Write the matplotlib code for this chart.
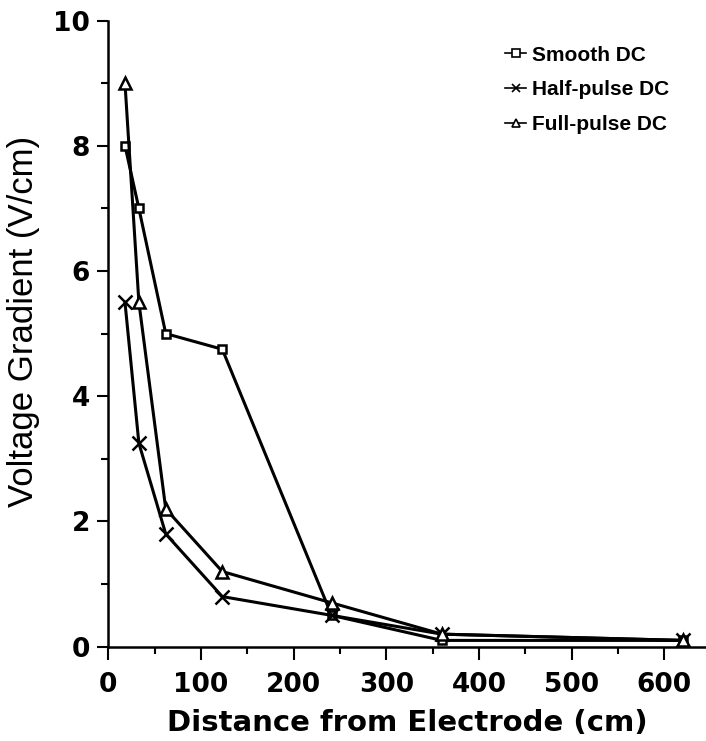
import matplotlib.pyplot as plt
from matplotlib.ticker import MultipleLocator

# Расстояние от электрода (см)
distance = [18, 33, 62, 123, 241, 360, 620]

# Градиент напряжения (В/см)
smooth_dc = [8.0, 7.0, 5.0, 4.75, 0.5, 0.1, 0.1]
half_pulse_dc = [5.5, 3.25, 1.8, 0.8, 0.5, 0.2, 0.1]
full_pulse_dc = [9.0, 5.5, 2.2, 1.2, 0.7, 0.2, 0.1]

fig = plt.figure(figsize=(7.06, 7.41), dpi=100)
ax = fig.add_axes([0.1534, 0.1273, 0.8466, 0.845])

lw = 2.2
ax.plot(distance, smooth_dc, color='black', lw=lw, marker='s', markersize=6,
        markerfacecolor='white', markeredgewidth=1.8, label='Smooth DC')
ax.plot(distance, half_pulse_dc, color='black', lw=lw, marker='x', markersize=10,
        markeredgewidth=1.8, label='Half-pulse DC')
ax.plot(distance, full_pulse_dc, color='black', lw=lw, marker='^', markersize=9,
        markerfacecolor='white', markeredgewidth=1.8, label='Full-pulse DC')

ax.set_xlim(0, 645)
ax.set_ylim(0, 10)
ax.xaxis.set_major_locator(MultipleLocator(100))
ax.xaxis.set_minor_locator(MultipleLocator(50))
ax.yaxis.set_major_locator(MultipleLocator(2))
ax.yaxis.set_minor_locator(MultipleLocator(1))

for s in ['top', 'right']:
    ax.spines[s].set_visible(False)
for s in ['left', 'bottom']:
    ax.spines[s].set_linewidth(1.8)

ax.tick_params(axis='x', which='major', direction='out', length=9, width=1.5, pad=9)
ax.tick_params(axis='x', which='minor', direction='out', length=5, width=1.5)
ax.tick_params(axis='y', which='major', direction='out', length=8, width=1.5, pad=5)
ax.tick_params(axis='y', which='minor', direction='out', length=5, width=1.5)
ax.tick_params(axis='both', labelsize=19)
for lab in ax.get_xticklabels() + ax.get_yticklabels():
    lab.set_fontweight('bold')
    lab.set_family('DejaVu Sans')

ax.set_xlabel('Distance from Electrode (cm)', fontsize=21, fontweight='bold',
              family='DejaVu Sans', labelpad=8)
ax.set_ylabel('Voltage Gradient (V/cm)', fontsize=25, family='Liberation Sans',
              labelpad=10)
ax.yaxis.set_label_coords(-0.115, 0.52)

leg = ax.legend(loc='upper left', bbox_to_anchor=(0.664, 0.96), frameon=False,
                borderaxespad=0, borderpad=0,
                handlelength=1.0, handletextpad=0.3, labelspacing=0.75,
                prop={'family': 'Liberation Sans', 'weight': 'bold', 'size': 15})
for h in leg.legend_handles:
    h.set_linewidth(1.2)
    h.set_markersize(6)
    h.set_markeredgewidth(1.2)

plt.savefig('out.png', dpi=100)
